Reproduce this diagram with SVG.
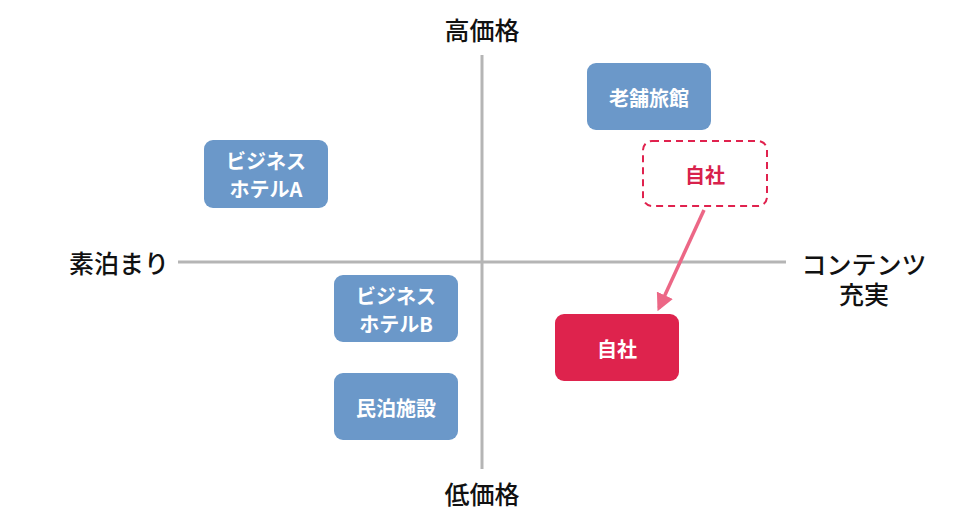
<svg xmlns="http://www.w3.org/2000/svg" width="980" height="523" viewBox="0 0 980 523">
<defs>
<style>
.lbl{font-family:"Noto Sans CJK JP","Noto Sans",sans-serif;font-size:25px;font-weight:500;fill:#111;text-anchor:middle;dominant-baseline:central}
.nt{font-family:"Noto Sans CJK JP","Noto Sans",sans-serif;font-size:20px;font-weight:bold;fill:#fff;text-anchor:middle;dominant-baseline:central}
.blue{fill:#6b98c9}
.axis{stroke:#b5b5b5;stroke-width:3;fill:none}
</style>
<marker id="ah" viewBox="0 0 10 10" refX="8" refY="5" markerWidth="5" markerHeight="5" orient="auto" markerUnits="strokeWidth">
<path d="M0,0 L10,5 L0,10 z" fill="#ec6786"/>
</marker>
</defs>
<rect width="980" height="523" fill="#fff"/>
<g id="axes">
<line class="axis" x1="178" y1="262" x2="786" y2="262"/>
<line class="axis" x1="482" y1="55" x2="482" y2="469"/>
</g>
<g id="labels">
<text class="lbl" x="482" y="29">高価格</text>
<text class="lbl" x="482" y="493">低価格</text>
<text class="lbl" x="119" y="262">素泊まり</text>
<text class="lbl" x="864" y="263">コンテンツ<tspan x="864" dy="30">充実</tspan></text>
</g>
<g id="connectors">
<line x1="704" y1="210" x2="659" y2="308" stroke="#ec6786" stroke-width="3.5" marker-end="url(#ah)"/>
</g>
<g id="node-shinise">
<rect class="blue" x="587" y="63" width="124" height="67" rx="9"/>
<text class="nt" x="649" y="97">老舗旅館</text>
</g>
<g id="node-jisha-old">
<rect x="643" y="141" width="124" height="65" rx="9" fill="#fff" stroke="#e0224e" stroke-width="2" stroke-dasharray="7,5"/>
<text class="nt" x="705" y="174" style="fill:#d8224c">自社</text>
</g>
<g id="node-jisha">
<rect x="555" y="314" width="124" height="67" rx="9" fill="#de234d"/>
<text class="nt" x="617" y="348">自社</text>
</g>
<g id="node-bizA">
<rect class="blue" x="204" y="140" width="124" height="68" rx="9"/>
<text class="nt" x="266" y="160">ビジネス<tspan x="266" dy="28">ホテルA</tspan></text>
</g>
<g id="node-bizB">
<rect class="blue" x="334" y="275" width="124" height="67" rx="9"/>
<text class="nt" x="396" y="295">ビジネス<tspan x="396" dy="28">ホテルB</tspan></text>
</g>
<g id="node-minpaku">
<rect class="blue" x="334" y="373" width="124" height="67" rx="9"/>
<text class="nt" x="396" y="407">民泊施設</text>
</g>
</svg>
